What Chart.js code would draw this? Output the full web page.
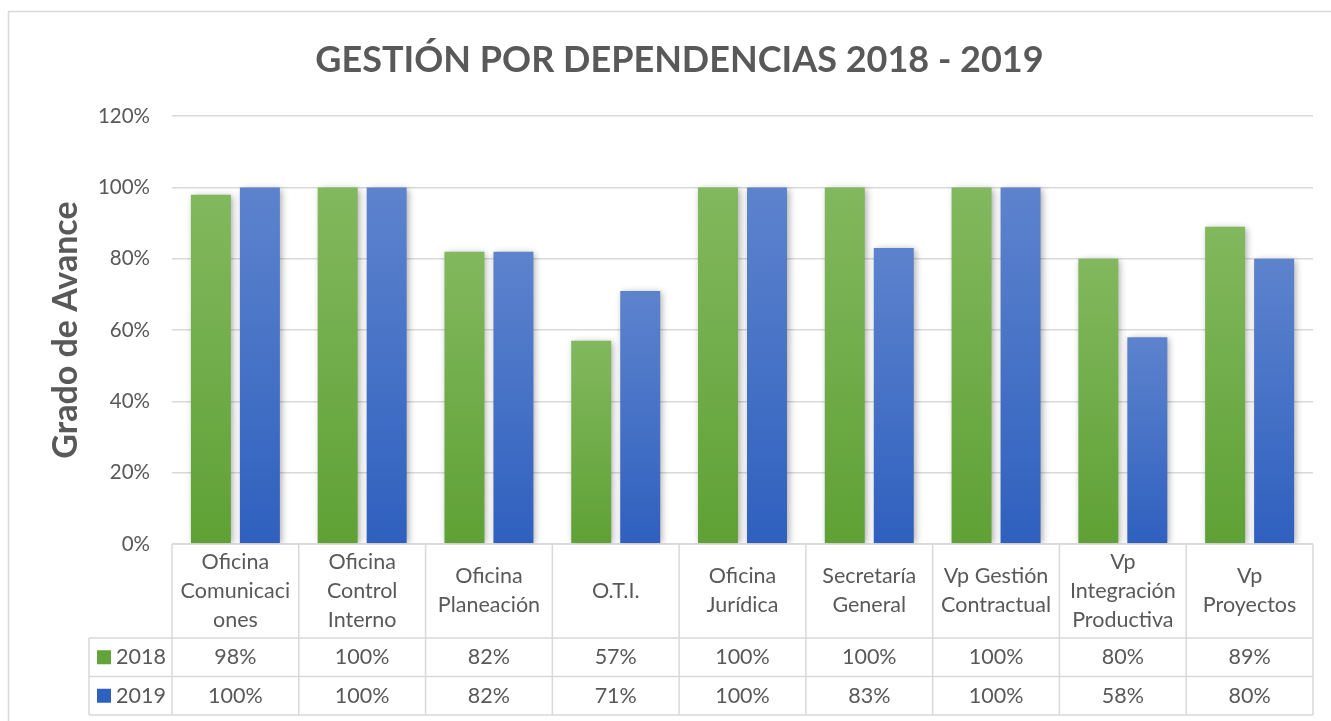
<!DOCTYPE html>
<html>
<head>
<meta charset="utf-8">
<script src="https://cdn.jsdelivr.net/npm/chart.js@4/dist/chart.umd.min.js"></script>
<style>
  html, body { margin: 0; padding: 0; background: #fff; overflow: hidden; }
  #wrap { position: relative; width: 1331px; height: 721px; }
</style>
</head>
<body>
<div id="wrap"><canvas id="gestionChart" width="1331" height="721"></canvas></div>
<script>
const categories = [
  ["Oficina", "Comunicaci", "ones"],
  ["Oficina", "Control", "Interno"],
  ["Oficina", "Planeación"],
  ["O.T.I."],
  ["Oficina", "Jurídica"],
  ["Secretaría", "General"],
  ["Vp Gestión", "Contractual"],
  ["Vp", "Integración", "Productiva"],
  ["Vp", "Proyectos"]
];
const values2018 = [98, 100, 82, 57, 100, 100, 100, 80, 89];
const values2019 = [100, 100, 82, 71, 100, 83, 100, 58, 80];
const seriesNames = ["2018", "2019"];
const yTicks = [0, 20, 40, 60, 80, 100, 120];

const FONT = "Lato, 'Open Sans', sans-serif";
const TEXT = "#595959";
const LINE = "#d9d9d9";

function barGradient(top, bottom) {
  return function (context) {
    const chart = context.chart;
    if (!chart.chartArea) return bottom;
    const y = chart.scales.y;
    const v = context.raw || 0;
    const y0 = y.getPixelForValue(v);
    const y1 = y.getPixelForValue(0);
    const g = chart.ctx.createLinearGradient(0, y0, 0, y1);
    g.addColorStop(0, top);
    g.addColorStop(1, bottom);
    return g;
  };
}

const frame = {
  id: "frame",
  beforeDraw(chart) {
    const ctx = chart.ctx;
    ctx.save();
    ctx.strokeStyle = LINE;
    ctx.lineWidth = 1.5;
    ctx.strokeRect(8.5, 11.5, 1400, 800);
    ctx.restore();
  }
};

const barShadow = {
  id: "barShadow",
  beforeDatasetsDraw(chart) {
    const ctx = chart.ctx;
    ctx.save();
    ctx.shadowColor = "rgba(0,0,0,0.35)";
    ctx.shadowBlur = 7;
    ctx.shadowOffsetX = 2;
    ctx.shadowOffsetY = 1;
  },
  afterDatasetsDraw(chart) {
    chart.ctx.restore();
  }
};

// data table under the plot, columns taken from the x scale
const dataTable = {
  id: "dataTable",
  afterDraw(chart) {
    const ctx = chart.ctx;
    const x = chart.scales.x;
    const area = chart.chartArea;
    const half = (x.getPixelForValue(1) - x.getPixelForValue(0)) / 2;
    const headTop = area.bottom;
    const headBottom = headTop + 94;
    const rowH = 38.5;
    const legendLeft = 89;
    const rows = [values2018, values2019];
    const swatch = ["#62a43a", "#2f61bf"];

    ctx.save();
    ctx.strokeStyle = LINE;
    ctx.lineWidth = 1.5;
    ctx.beginPath();
    ctx.moveTo(area.left, headTop); ctx.lineTo(area.right, headTop);
    for (let r = 0; r <= rows.length; r++) {
      const yy = headBottom + r * rowH;
      ctx.moveTo(legendLeft, yy); ctx.lineTo(area.right, yy);
    }
    ctx.moveTo(legendLeft, headBottom); ctx.lineTo(legendLeft, headBottom + rows.length * rowH);
    for (let i = 0; i <= categories.length; i++) {
      const xx = x.getPixelForValue(i) - half;
      ctx.moveTo(xx, headTop); ctx.lineTo(xx, headBottom + rows.length * rowH);
    }
    ctx.stroke();

    ctx.fillStyle = TEXT;
    ctx.font = "21.5px " + FONT;
    ctx.textAlign = "center";
    ctx.textBaseline = "middle";
    const lh = 29;
    categories.forEach((lines, i) => {
      const cx = x.getPixelForValue(i);
      const cy = (headTop + headBottom) / 2;
      lines.forEach((t, k) => {
        ctx.fillText(t, cx, cy + (k - (lines.length - 1) / 2) * lh);
      });
    });
    rows.forEach((vals, r) => {
      const cy = headBottom + r * rowH + rowH / 2;
      vals.forEach((v, i) => {
        ctx.fillText(v + "%", x.getPixelForValue(i), cy);
      });
      ctx.fillStyle = swatch[r];
      ctx.fillRect(97, cy - 7, 14, 14);
      ctx.fillStyle = TEXT;
      ctx.textAlign = "left";
      ctx.fillText(seriesNames[r], 116, cy);
      ctx.textAlign = "center";
    });
    ctx.restore();
  }
};

new Chart(document.getElementById("gestionChart"), {
  type: "bar",
  data: {
    labels: categories.map(c => c.join(" ")),
    datasets: [
      {
        label: seriesNames[0],
        data: values2018,
        backgroundColor: barGradient("#82b85e", "#5fa135"),
        categoryPercentage: 0.773,
        barPercentage: 0.816
      },
      {
        label: seriesNames[1],
        data: values2019,
        backgroundColor: barGradient("#5d83cd", "#2f60bf"),
        categoryPercentage: 0.773,
        barPercentage: 0.816
      }
    ]
  },
  options: {
    responsive: false,
    animation: false,
    devicePixelRatio: 1,
    layout: { padding: { left: 46, right: 18, top: 18, bottom: 177 } },
    plugins: {
      legend: { display: false },
      tooltip: { enabled: false },
      title: {
        display: true,
        text: "GESTIÓN POR DEPENDENCIAS 2018 - 2019",
        color: TEXT,
        font: { family: FONT, size: 36, weight: "bold" },
        padding: { top: 21, bottom: 34 }
      }
    },
    scales: {
      x: {
        display: false,
        grid: { display: false }
      },
      y: {
        min: 0,
        max: 120,
        afterBuildTicks(scale) {
          scale.ticks = yTicks.map(v => ({ value: v }));
        },
        afterFit(scale) {
          scale.width = 126;
        },
        border: { display: false },
        grid: { color: LINE, lineWidth: 1.5, drawTicks: false },
        ticks: {
          color: TEXT,
          padding: 22,
          font: { family: FONT, size: 20.5 },
          callback: v => v + "%"
        },
        title: {
          display: true,
          text: "Grado de Avance",
          color: TEXT,
          font: { family: FONT, size: 34, weight: "bold" },
          padding: { top: 0, bottom: 0 }
        }
      }
    }
  },
  plugins: [frame, barShadow, dataTable]
});
</script>
</body>
</html>
